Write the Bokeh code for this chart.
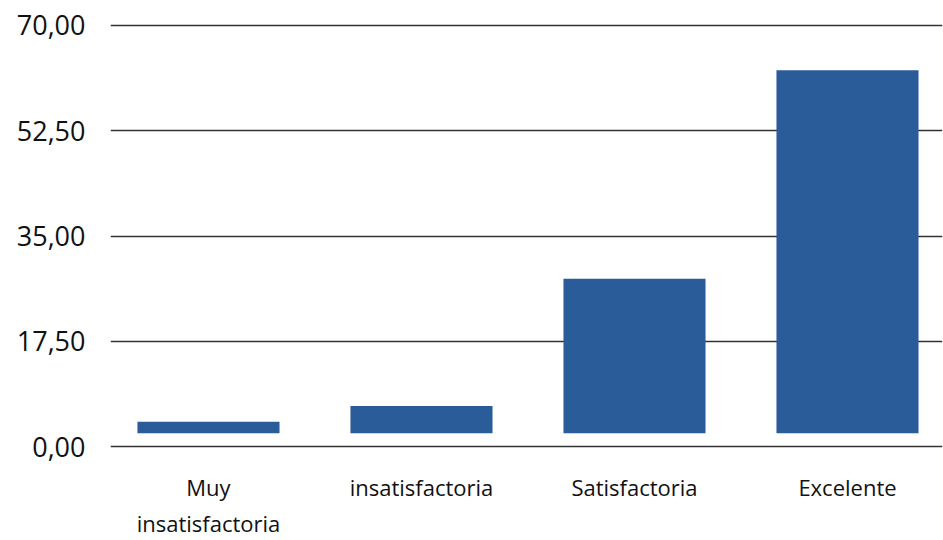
from bokeh.plotting import figure
from bokeh.models import Range1d, FixedTicker, ColumnDataSource
from bokeh.embed import file_html
from bokeh.resources import INLINE

categories = ["Muy\ninsatisfactoria", "insatisfactoria", "Satisfactoria", "Excelente"]
values = [4.2, 6.8, 27.9, 62.5]
y_ticks = [0, 17.5, 35, 52.5, 70]
y_tick_labels = ["0,00", "17,50", "35,00", "52,50", "70,00"]

BASE = 2.3
xs = list(range(len(categories)))
src = ColumnDataSource(dict(x=xs, top=values, bottom=[BASE] * len(values)))

p = figure(width=943, height=540, output_backend="svg", toolbar_location=None,
           x_range=Range1d(-0.46, 3.446), y_range=Range1d(-0.25, 70.25))
p.min_border_left = 110
p.min_border_right = 1
p.min_border_top = 23
p.min_border_bottom = 92
p.outline_line_color = None
p.background_fill_color = "white"
p.border_fill_color = "white"

p.vbar(x="x", top="top", bottom="bottom", width=0.667, source=src,
       fill_color="#2A5C9A", line_color=None)

p.xgrid.grid_line_color = None
p.ygrid.grid_line_color = "#333333"
p.ygrid.grid_line_width = 1.6
p.ygrid.ticker = FixedTicker(ticks=y_ticks)

p.yaxis.ticker = FixedTicker(ticks=y_ticks)
p.yaxis.major_label_overrides = {t: l for t, l in zip(y_ticks, y_tick_labels)}
p.yaxis.axis_line_color = None
p.yaxis.major_tick_line_color = None
p.yaxis.minor_tick_line_color = None
p.yaxis.major_label_standoff = 19
p.yaxis.major_label_text_font = "Open Sans"
p.yaxis.major_label_text_font_size = "27px"
p.yaxis.major_label_text_color = "#111111"

p.xaxis.ticker = FixedTicker(ticks=xs)
p.xaxis.major_label_overrides = {x: c for x, c in zip(xs, categories)}
p.xaxis.axis_line_color = None
p.xaxis.major_tick_line_color = None
p.xaxis.minor_tick_line_color = None
p.xaxis.major_label_standoff = 17
p.xaxis.major_label_text_font = "Open Sans"
p.xaxis.major_label_text_font_size = "22px"
p.xaxis.major_label_text_color = "#111111"

open("out.html", "w").write(file_html(p, INLINE))
